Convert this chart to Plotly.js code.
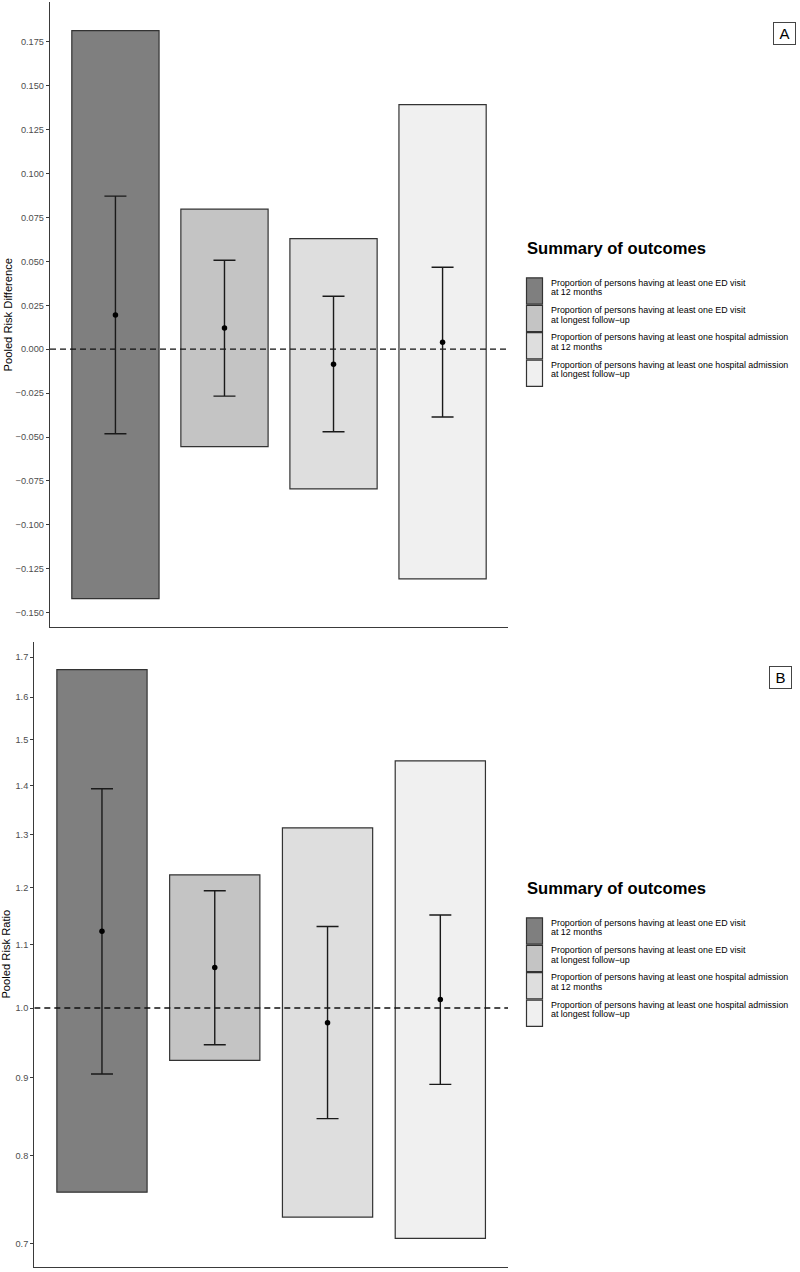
<!DOCTYPE html>
<html>
<head>
<meta charset="utf-8">
<script src="https://cdn.plot.ly/plotly-3.0.1.min.js"></script>
<style>html,body{margin:0;padding:0;background:#fff;}#chart{width:800px;height:1272px;}</style>
</head>
<body>
<div id="chart"></div>
<script>
// ---- Data ----
const outcomeLine1 = [
  "Proportion of persons having at least one ED visit",
  "Proportion of persons having at least one ED visit",
  "Proportion of persons having at least one hospital admission",
  "Proportion of persons having at least one hospital admission"
];
const outcomeLine2 = ["at 12 months", "at longest follow\u2212up", "at 12 months", "at longest follow\u2212up"];
const outcomeIndex = [0, 1, 2, 3];
const fillColors = ["#7f7f7f", "#c4c4c4", "#dedede", "#f0f0f0"];

// Panel A: pooled risk difference
const rdEst    = [0.0195, 0.0121, -0.0085, 0.0040];
const rdCiLow  = [-0.0481, -0.0267, -0.0470, -0.0386];
const rdCiHigh = [0.0871, 0.0506, 0.0301, 0.0466];
const rdPiLow  = [-0.1420, -0.0555, -0.0795, -0.1307];
const rdPiHigh = [0.1813, 0.0797, 0.0629, 0.1392];
const rdTicks  = [-0.150, -0.125, -0.100, -0.075, -0.050, -0.025, 0, 0.025, 0.050, 0.075, 0.100, 0.125, 0.150, 0.175];
const rdRef = 0;

// Panel B: pooled risk ratio
const rrEst    = [1.123, 1.063, 0.978, 1.013];
const rrCiLow  = [0.905, 0.946, 0.846, 0.891];
const rrCiHigh = [1.393, 1.194, 1.131, 1.151];
const rrPiLow  = [0.757, 0.924, 0.729, 0.706];
const rrPiHigh = [1.668, 1.223, 1.313, 1.453];
const rrTicks  = [0.7, 0.8, 0.9, 1.0, 1.1, 1.2, 1.3, 1.4, 1.5, 1.6, 1.7];
const rrRef = 1;

const legendTitle = "Summary of outcomes";
const panelLabels = ["A", "B"];
const yTitles = ["Pooled Risk Difference", "Pooled Risk Ratio"];

// ---- Helpers ----
const W = 800, H = 1272, MT = 2, MB = 5;
const fx = p => p / W;
const fy = p => (H - MB - p) / (H - MT - MB);
const fmtTick = (v, d) => (v < 0 ? "\u2212" : "") + Math.abs(v).toFixed(d);

const FONT = "Liberation Sans, Arial, Helvetica, sans-serif";
const XR = [-0.6, 3.6];

function barTrace(lo, hi, xa, ya) {
  return {
    type: "bar", x: outcomeIndex, base: lo, y: hi.map((h, i) => h - lo[i]),
    width: 0.8, xaxis: xa, yaxis: ya,
    marker: {color: fillColors, line: {color: "#333333", width: 1.2}},
    showlegend: false, hoverinfo: "skip"
  };
}
function refTrace(v, xa, ya) {
  return {
    type: "scatter", mode: "lines", x: XR, y: [v, v], xaxis: xa, yaxis: ya,
    line: {color: "#111111", width: 1.3, dash: "6px,4px"}, showlegend: false, hoverinfo: "skip"
  };
}
function estTrace(est, lo, hi, xa, ya) {
  return {
    type: "scatter", mode: "markers", x: outcomeIndex, y: est, xaxis: xa, yaxis: ya,
    marker: {color: "#000000", size: 5.5},
    error_y: {type: "data", symmetric: false,
      array: hi.map((h, i) => h - est[i]), arrayminus: lo.map((l, i) => est[i] - l),
      color: "#1a1a1a", thickness: 1.4, width: 11},
    showlegend: false, hoverinfo: "skip"
  };
}

const data = [
  barTrace(rdPiLow, rdPiHigh, "x", "y"),
  refTrace(rdRef, "x", "y"),
  estTrace(rdEst, rdCiLow, rdCiHigh, "x", "y"),
  barTrace(rrPiLow, rrPiHigh, "x2", "y2"),
  refTrace(rrRef, "x2", "y2"),
  estTrace(rrEst, rrCiLow, rrCiHigh, "x2", "y2")
];

const axisLine = {showline: true, linecolor: "#3a3a3a", linewidth: 1.2, showgrid: false, zeroline: false, fixedrange: true};
const xBase = Object.assign({}, axisLine, {range: XR, ticks: "", showticklabels: false});
const yBase = Object.assign({}, axisLine, {ticks: "outside", ticklen: 3, tickwidth: 1, tickcolor: "#3a3a3a",
  tickfont: {family: FONT, size: 9.2, color: "#4d4d4d"}});

const layout = {
  width: W, height: H,
  margin: {l: 0, r: 0, t: MT, b: MB, pad: 0},
  paper_bgcolor: "#ffffff", plot_bgcolor: "#ffffff",
  font: {family: FONT},
  showlegend: false,
  xaxis: Object.assign({}, xBase, {domain: [fx(50), fx(508)], anchor: "y"}),
  yaxis: Object.assign({}, yBase, {domain: [fy(627), 1], anchor: "x",
    range: [-0.1581, 0.1976], tickmode: "array", tickvals: rdTicks, ticktext: rdTicks.map(v => fmtTick(v, 3))}),
  xaxis2: Object.assign({}, xBase, {domain: [fx(34.3), fx(508)], anchor: "y2"}),
  yaxis2: Object.assign({}, yBase, {domain: [0, fy(642)], anchor: "x2", type: "log",
    range: [Math.log10(0.676), Math.log10(1.739)], tickmode: "array", tickvals: rrTicks, ticktext: rrTicks.map(v => v.toFixed(1))}),
  shapes: [],
  annotations: []
};

// Y-axis titles
[[yTitles[0], 7, 314.5], [yTitles[1], 6, 954.6]].forEach(([t, x, y]) => {
  layout.annotations.push({text: t, xref: "paper", yref: "paper", x: fx(x), y: fy(y),
    xanchor: "center", yanchor: "middle", textangle: -90, showarrow: false,
    font: {family: FONT, size: 11.2, color: "#000000"}});
});

// Panel letters
[[panelLabels[0], 784.2, 33.3], [panelLabels[1], 780.7, 677.7]].forEach(([t, x, y]) => {
  layout.annotations.push({text: t, xref: "paper", yref: "paper", x: fx(x), y: fy(y),
    xanchor: "center", yanchor: "middle", showarrow: false, width: 21, height: 21,
    bordercolor: "#444444", borderwidth: 1, borderpad: 0, bgcolor: "#ffffff",
    font: {family: FONT, size: 15, color: "#000000"}});
});

// Legends (one per panel)
[0, 640].forEach(off => {
  layout.annotations.push({text: "<b>" + legendTitle + "</b>", xref: "paper", yref: "paper",
    x: fx(525), y: fy(248.5 + off), xanchor: "left", yanchor: "middle", showarrow: false,
    font: {family: FONT, size: 16.6, color: "#000000"}});
  outcomeIndex.forEach(i => {
    const top = 277.3 + 27.4 * i + off;
    layout.shapes.push({type: "rect", xref: "paper", yref: "paper",
      x0: fx(526.5), x1: fx(542.5), y0: fy(top + 0.6), y1: fy(top + 26.8),
      fillcolor: fillColors[i], line: {color: "#333333", width: 1.2}});
    layout.annotations.push({text: outcomeLine1[i], xref: "paper", yref: "paper",
      x: fx(548.5), y: fy(top + 5.2), xanchor: "left", yanchor: "middle", showarrow: false,
      font: {family: FONT, size: 8.9, color: "#000000"}});
    layout.annotations.push({text: outcomeLine2[i], xref: "paper", yref: "paper",
      x: fx(548.5), y: fy(top + 14.8), xanchor: "left", yanchor: "middle", showarrow: false,
      font: {family: FONT, size: 8.9, color: "#000000"}});
  });
});

Plotly.newPlot("chart", data, layout, {staticPlot: true, displayModeBar: false});
</script>
</body>
</html>
